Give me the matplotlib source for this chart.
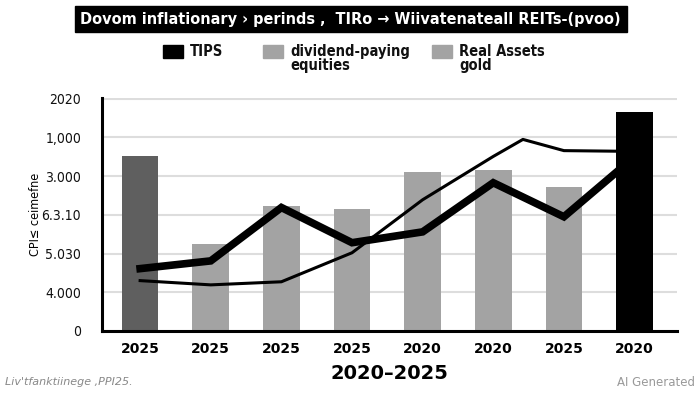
import matplotlib
matplotlib.use("Agg")
import matplotlib.pyplot as plt
from matplotlib.patches import Rectangle

# ---- data ----
categories = ["2025", "2025", "2025", "2025", "2020", "2020", "2025", "2020"]
bar_values = [4.53, 2.25, 3.24, 3.16, 4.12, 4.15, 3.73, 5.67]
bar_colors = ["#5f5f5f", "#a3a3a3", "#a3a3a3", "#a3a3a3", "#a3a3a3", "#a3a3a3", "#a3a3a3", "#000000"]
thick_line = [1.61, 1.81, 3.19, 2.28, 2.56, 3.83, 2.95, 4.50]
thin_x = [0, 1, 2, 3, 4, 5, 5.42, 6, 7]
thin_line = [1.30, 1.19, 1.27, 2.02, 3.39, 4.51, 4.95, 4.66, 4.64]
ytick_labels = ["0", "4.000", "5.030", "6.3.10", "3.000", "1,000", "2020"]
legend_labels = ["TIPS", "dividend-paying\nequities", "Real Assets\ngold"]
legend_colors = ["#000000", "#a3a3a3", "#a3a3a3"]

fig = plt.figure(figsize=(7, 3.93), dpi=100)
ax = fig.add_axes([0.1457, 0.158, 0.967 - 0.1457, 0.7506 - 0.158])

x = list(range(len(categories)))
for i, (v, c) in enumerate(zip(bar_values, bar_colors)):
    ax.bar(i, v, width=0.52, color=c, zorder=5 if i == len(categories) - 1 else 2)

ax.plot(x, thick_line, color="black", lw=5.5, solid_joinstyle="miter", zorder=3)
ax.plot(thin_x, thin_line, color="black", lw=2.2, zorder=3)

ax.set_xlim(-0.54, 7.6)
ax.set_ylim(0, 6.02)
ax.set_yticks(range(len(ytick_labels)))
ax.set_yticklabels(ytick_labels, fontsize=10, color="#111111", fontstretch="condensed")
ax.set_xticks(x)
ax.set_xticklabels(categories, fontsize=10, fontweight="bold")
ax.tick_params(length=0, pad=8)
ax.tick_params(axis="y", pad=15)
ax.grid(axis="y", color="#dddddd", lw=1.5, zorder=0)
ax.set_axisbelow(True)
for s in ["top", "right"]:
    ax.spines[s].set_visible(False)
for s in ["left", "bottom"]:
    ax.spines[s].set_linewidth(2.2)
    ax.spines[s].set_zorder(6)
ax.set_xlabel("2020\u20132025", fontsize=14, fontweight="bold", labelpad=6)
ax.set_ylabel("CPI\u2264 ceimefne", fontsize=9, fontstretch="condensed")
ax.yaxis.set_label_coords(-0.104, 0.5)

# title in black box
title = fig.text(0.501, 0.951, "Dovom inflationary \u203a perinds ,  TIRo \u2192 Wiivatenateall REITs-(pvoo)",
                 fontsize=15, fontweight="bold", color="white", fontstretch="condensed",
                 ha="center", va="center",
                 bbox=dict(boxstyle="square,pad=0.35", fc="black", ec="black"))
fig.canvas.draw()
w = title.get_window_extent().width
title.set_fontsize(15 * 540 / w)

# legend
leg_x = [163, 263, 432]
for lx, lab, col in zip(leg_x, legend_labels, legend_colors):
    fig.patches.append(Rectangle((lx / 700, 1 - 58 / 393), 20 / 700, 13 / 393,
                                 transform=fig.transFigure, fc=col, ec=col, figure=fig))
    fig.text((lx + 27) / 700, 1 - 44 / 393, lab, fontsize=10.5, fontstretch="condensed",
             fontweight="semibold", va="top", ha="left", linespacing=0.9, color="#111111")

fig.text(5 / 700, 1 - 382 / 393, "Liv'tfanktiinege ,PPI25.", fontsize=8, style="italic",
         color="#888888", va="center")
fig.text(695 / 700, 1 - 383 / 393, "AI Generated", fontsize=8.5, color="#999999",
         ha="right", va="center")

fig.savefig("out.png", dpi=100)
